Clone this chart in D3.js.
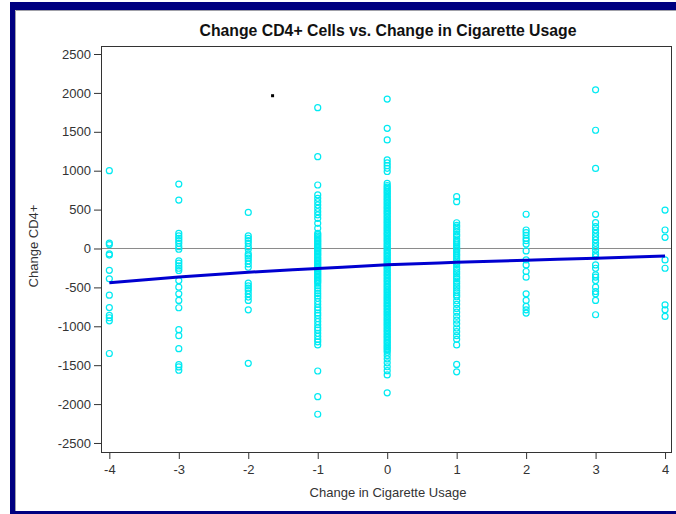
<!DOCTYPE html>
<html>
<head>
<meta charset="utf-8">
<script src="https://cdn.jsdelivr.net/npm/d3@7"></script>
<style>
  body { margin: 0; background: #fff; }
  svg { display: block; font-family: Arial, "Liberation Sans", sans-serif; }
</style>
</head>
<body>
<svg id="chart" width="676" height="514"></svg>
<script>
// change in cigarette usage levels and the CD4+ changes
var xLevels = [-4, -3, -2, -1, 0, 1, 2, 3, 4];
var colM4 = [1000, 70, 50, -70, -85, -280, -390, -600, -760, -860, -890, -930, -1350];
var colM3 = [828, 623, 195, 161, 131, 101, 67, 24, -10, -159, -189, -224, -254, -283, -412, -497, -583, -668, -762, -1044, -1121, -1288, -1493, -1523, -1565];
var colM2 = [464, 161, 131, 101, 67, 24, -10, -70, -95, -125, -159, -198, -241, -446, -480, -510, -540, -583, -625, -668, -788, -1476];
var colM1 = [1810, 1180, 816, 688, 645, 602, 559, 516, 473, 431, 388, 324, 260,
  195, 178, 160, 141, 122, 104, 87, 68, 50, 31, 14, -5, -23, -41, -60, -78, -97, -115,
  -134, -152, -171, -190, -208, -226, -245, -263, -282, -300, -318, -337, -355, -374,
  -392, -411, -429, -447, -480, -510, -545, -580, -610, -640, -680, -720, -760, -790,
  -830, -860, -900, -940, -980, -1020, -1050, -1090, -1130, -1170, -1200, -1240,
  -1575, -1905, -2131];
var col0 = [1921, 1545, 1395, 1138, 1100, 1065, 1030, 990, 838, 810,
  790, 771, 752, 730, 712, 690, 671, 650, 633, 611, 590, 572, 551, 530, 512, 490, 470,
  452, 431, 410, 392, 370, 351, 330, 312, 290, 271, 250, 232, 210, 190, 172, 150, 131,
  110, 92, 70, 51, 30, 12, -10, -28, -50, -69, -90, -108, -130, -149, -170, -188, -210,
  -229, -250, -268, -290, -309, -330, -348, -370, -389, -410, -428, -450, -469, -490,
  -508, -530, -549, -570, -588, -610, -629, -650, -668, -690, -709, -730, -748, -770,
  -789, -810, -828, -850, -869, -890, -908, -930, -949, -970, -988, -1010, -1029, -1050,
  -1068, -1090, -1109, -1130, -1148, -1170, -1189, -1210, -1228, -1250, -1269, -1290,
  -1310, -1335, -1375, -1420, -1470, -1520, -1570, -1625, -1855];
var colP1 = [666, 602, 331, 298, 275, 244, 215, 181, 158, 122, 96, 71, 48, 22, 3, -18,
  -43, -70, -94, -121, -148, -180, -207, -241, -268, -299, -327, -362, -388, -421, -449,
  -482, -508, -541, -569, -598, -620, -672, -718, -771, -818, -872, -921, -968, -1022,
  -1069, -1121, -1168, -1240, -1490, -1585];
var colP2 = [440, 238, 204, 170, 131, 101, 58, -31, -147, -211, -296, -369, -583, -668, -745, -788, -830];
var colP3 = [2040, 1520, 1029, 439, 332, 281, 238, 195, 152, 110, 67, 24, -18, -70, -104, -211, -254, -339, -369, -412, -497, -553, -583, -668, -852];
var colP4 = [494, 238, 144, -147, -254, -724, -788, -873];
var columns = [colM4, colM3, colM2, colM1, col0, colP1, colP2, colP3, colP4];

// fitted curve at each level
var fitValues = [-440, -365, -305, -258, -210, -178, -150, -125, -95];

// stray black mark in the plot
var strayX = [-1.65];
var strayY = [1964];

var xTicks = [-4, -3, -2, -1, 0, 1, 2, 3, 4];
var yTicks = [2500, 2000, 1500, 1000, 500, 0, -500, -1000, -1500, -2000, -2500];

var plot = {left: 101, right: 672, top: 46, bottom: 452};

var svg = d3.select('#chart');

// window frame
svg.append('rect').attr('x', 10).attr('y', 2).attr('width', 666).attr('height', 8).attr('fill', '#000080');
svg.append('rect').attr('x', 10).attr('y', 2).attr('width', 5).attr('height', 512).attr('fill', '#000080');
svg.append('rect').attr('x', 10).attr('y', 511).attr('width', 666).attr('height', 3).attr('fill', '#000080');
svg.append('path').attr('d', 'M15.5,511V10.5H676').attr('fill', 'none').attr('stroke', '#a0a0a8').attr('stroke-width', 1);

var x = d3.scaleLinear().domain([-4.12, 4.1]).range([plot.left, plot.right]);
var y = d3.scaleLinear().domain([-2616, 2603]).range([plot.bottom, plot.top]);

svg.append('text')
    .attr('x', 388).attr('y', 36)
    .attr('text-anchor', 'middle')
    .style('font-size', '15.8px').style('font-weight', 'bold').attr('fill', '#111')
    .text('Change CD4+ Cells vs. Change in Cigarette Usage');

var yAxis = svg.append('g')
    .attr('transform', 'translate(' + plot.left + ',0)')
    .call(d3.axisLeft(y).tickValues(yTicks).tickSize(7).tickPadding(3).tickFormat(d => String(d)));
var xAxis = svg.append('g')
    .attr('transform', 'translate(0,' + plot.bottom + ')')
    .call(d3.axisBottom(x).tickValues(xTicks).tickSize(7).tickPadding(6).tickFormat(d => String(d)));
[xAxis, yAxis].forEach(function(g) {
    g.select('.domain').remove();
    g.selectAll('line').attr('stroke', '#333');
    g.selectAll('text').style('font-size', '13px').attr('fill', '#333')
        .style('font-family', 'Arial, "Liberation Sans", sans-serif');
});

// zero reference line
svg.append('line')
    .attr('x1', plot.left).attr('x2', plot.right)
    .attr('y1', y(0)).attr('y2', y(0))
    .attr('stroke', '#8a8a8a').attr('stroke-width', 1);

var pts = [];
columns.forEach(function(col, i) {
    col.forEach(function(v) { pts.push({x: xLevels[i], y: v}); });
});

svg.append('g').selectAll('circle')
    .data(pts)
    .enter().append('circle')
    .attr('cx', d => x(d.x))
    .attr('cy', d => y(d.y))
    .attr('r', 3)
    .attr('fill', 'none')
    .attr('stroke', '#00eaf2')
    .attr('stroke-width', 1.2);

var fit = xLevels.map(function(v, i) { return [v, fitValues[i]]; });
svg.append('path')
    .datum(fit)
    .attr('fill', 'none')
    .attr('stroke', '#0000d0')
    .attr('stroke-width', 3)
    .attr('d', d3.line().x(d => x(d[0])).y(d => y(d[1])).curve(d3.curveMonotoneX));

svg.selectAll('rect.stray')
    .data(strayX)
    .enter().append('rect')
    .attr('class', 'stray')
    .attr('x', (d, i) => x(d) - 1.5)
    .attr('y', (d, i) => y(strayY[i]) - 1.5)
    .attr('width', 3).attr('height', 3)
    .attr('fill', '#000');

// plot frame
svg.append('rect')
    .attr('x', plot.left + 0.5).attr('y', plot.top + 0.5)
    .attr('width', plot.right - plot.left - 1).attr('height', plot.bottom - plot.top)
    .attr('fill', 'none').attr('stroke', '#333').attr('stroke-width', 1);

svg.append('text')
    .attr('x', 388).attr('y', 497)
    .attr('text-anchor', 'middle')
    .style('font-size', '13px').attr('fill', '#333')
    .text('Change in Cigarette Usage');

svg.append('text')
    .attr('transform', 'translate(38,246) rotate(-90)')
    .attr('text-anchor', 'middle')
    .style('font-size', '13px').attr('fill', '#333')
    .text('Change CD4+');
</script>
</body>
</html>
